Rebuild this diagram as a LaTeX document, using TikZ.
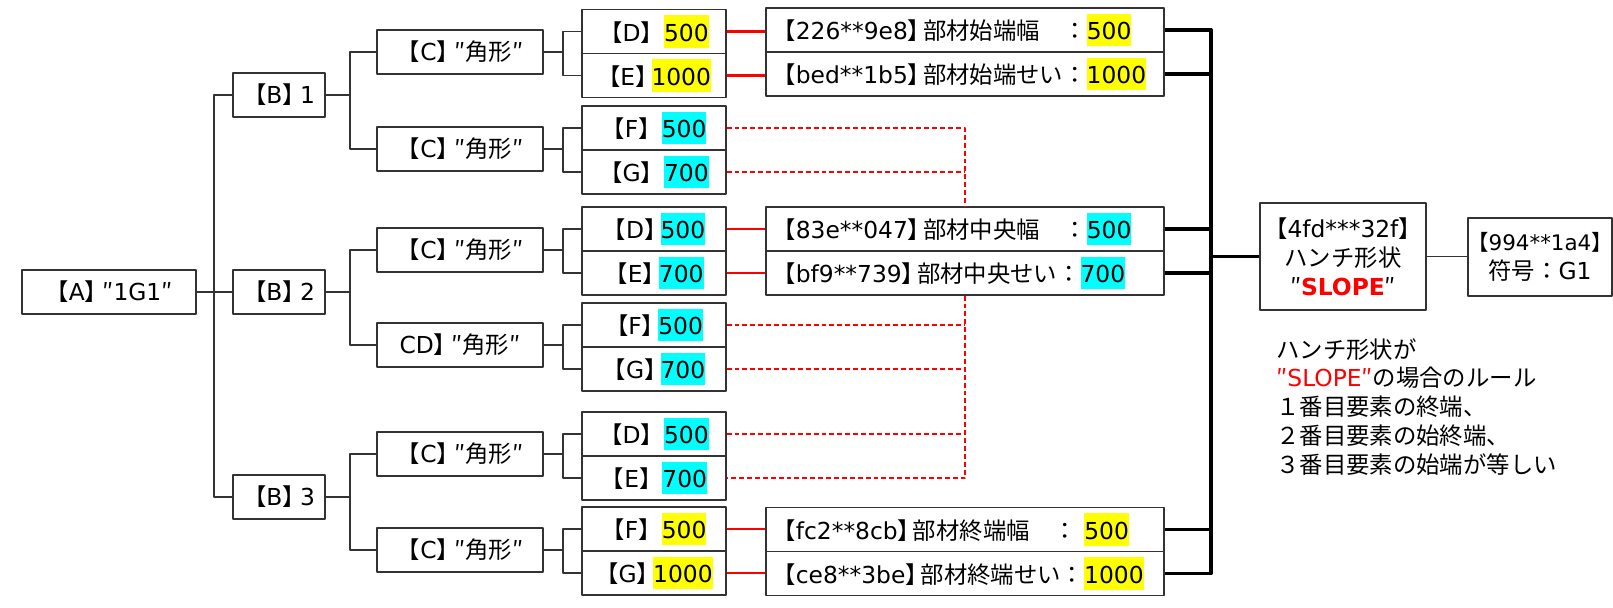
\documentclass[tikz,border=0pt]{standalone}
\usepackage{fontspec}
\usepackage{xcolor}
\setmainfont{DejaVu Sans}
\newfontfamily\jpfont{Noto Sans CJK JP}
\newcommand{\jpn}[1]{{\jpfont #1}}
\newcommand{\lbk}{\jpn{【}}
\newcommand{\rbk}[1][0.3em]{\jpn{】}\kern-#1}
\definecolor{hlyellow}{HTML}{FFFF00}
\definecolor{hlcyan}{HTML}{00FFFF}
\newcommand{\hlY}[1]{{\setlength{\fboxsep}{0pt}\colorbox{hlyellow}{\rule[-3.8pt]{0pt}{18.5pt}#1}}}
\newcommand{\hlC}[1]{{\setlength{\fboxsep}{0pt}\colorbox{hlcyan}{\rule[-3.8pt]{0pt}{18.5pt}#1}}}

\begin{document}
\begin{tikzpicture}[line join=round,font=\fontsize{13.3}{16.4}\selectfont,
  box/.style={draw=black!80,line width=0.75pt,fill=white,inner sep=0pt,minimum height=0.880cm},
  bnode/.style={box,minimum width=1.840cm},
  cnode/.style={box,minimum width=3.320cm},
  leaf/.style={box,minimum width=2.880cm},
  tgt/.style={box,text width=7.700cm,align=left,inner xsep=0.130cm,inner ysep=0pt},
  tree/.style={draw=black!80,line width=0.8pt},
  link/.style={draw=red,line width=1.5pt},
  dlink/.style={draw=red,line width=0.8pt,dash pattern=on 2.8pt off 1.7pt},
  bus/.style={draw=black,line width=1.9pt}]
  \useasboundingbox (0,0) rectangle (32.260,-12.140);
  % tree nodes
  \node[box,minimum width=3.480cm] (A) at (2.180,-5.840) {\lbk A\rbk[0.25em]\jpn{″}1G1\jpn{″}};
  \node[bnode] (B1) at (5.580,-1.900) {\lbk B\rbk[0.25em]1};
  \node[bnode] (B2) at (5.580,-5.840) {\lbk B\rbk[0.25em]2};
  \node[bnode] (B3) at (5.580,-9.940) {\lbk B\rbk[0.25em]3};
  \node[cnode] (C1) at (9.200,-1.040) {\lbk C\rbk[0.25em]\jpn{″角形″}};
  \node[cnode] (C2) at (9.200,-2.980) {\lbk C\rbk[0.25em]\jpn{″角形″}};
  \node[cnode] (C3) at (9.200,-5.000) {\lbk C\rbk[0.25em]\jpn{″角形″}};
  \node[cnode] (C4) at (9.200,-6.900) {CD\rbk[0.25em]\jpn{″角形″}};
  \node[cnode] (C5) at (9.200,-9.080) {\lbk C\rbk[0.25em]\jpn{″角形″}};
  \node[cnode] (C6) at (9.200,-11.000) {\lbk C\rbk[0.25em]\jpn{″角形″}};
  \node[leaf] (D1) at (13.080,-0.630) {\lbk D\rbk[0pt]\hlY{500}};
  \node[leaf] (E1) at (13.080,-1.510) {\lbk E\rbk\hlY{1000}};
  \node[leaf] (F1) at (13.080,-2.560) {\lbk F\rbk[0pt]\hlC{500}};
  \node[leaf] (G1) at (13.080,-3.440) {\lbk G\rbk[0pt]\hlC{700}};
  \node[leaf] (D2) at (13.080,-4.580) {\lbk D\rbk\hlC{500}};
  \node[leaf] (E2) at (13.080,-5.460) {\lbk E\rbk\hlC{700}};
  \node[leaf] (F2) at (13.080,-6.500) {\lbk F\rbk\hlC{500}};
  \node[leaf] (G2) at (13.080,-7.380) {\lbk G\rbk\hlC{700}};
  \node[leaf] (D3) at (13.080,-8.680) {\lbk D\rbk[0pt]\hlC{500}};
  \node[leaf] (E3) at (13.080,-9.560) {\lbk E\rbk[0pt]\hlC{700}};
  \node[leaf] (F3) at (13.080,-10.580) {\lbk F\rbk[0pt]\hlY{500}};
  \node[leaf] (G3) at (13.080,-11.460) {\lbk G\rbk\hlY{1000}};
  % member attribute boxes
  \node[tgt] (T1) at (19.300,-0.600) {\lbk 226**9e8\rbk[0.35em]\jpn{部材始端幅　：}\hlY{500}};
  \node[tgt] (T2) at (19.300,-1.480) {\lbk bed**1b5\rbk[0.35em]\jpn{部材始端せい：}\hlY{1000}};
  \node[tgt] (T3) at (19.300,-4.580) {\lbk 83e**047\rbk[0.35em]\jpn{部材中央幅　：}\hlC{500}};
  \node[tgt] (T4) at (19.300,-5.460) {\lbk bf9**739\rbk[0.35em]\jpn{部材中央せい：}\hlC{700}};
  \node[tgt] (T5) at (19.300,-10.590) {\lbk fc2**8cb\rbk[0.35em]\jpn{部材終端幅　：} \hlY{500}};
  \node[tgt] (T6) at (19.300,-11.470) {\lbk ce8**3be\rbk[0.35em]\jpn{部材終端せい：}\hlY{1000}};
  \node[box,minimum width=3.320cm,minimum height=2.140cm,align=center] (H) at (26.860,-5.130)
    {\lbk 4fd***32f\jpn{】}\\\jpn{ハンチ形状}\\\jpn{″}{\bfseries\color{red}SLOPE}\jpn{″}};
  \node[box,minimum width=2.880cm,minimum height=1.560cm,align=center] (G) at (30.800,-5.140)
    {{\fontsize{12.2}{16.4}\selectfont\kern-0.2em\lbk 994**1a4\jpn{】}\kern-0.2em}\\\jpn{符号：}G1};
  \node[anchor=north west,inner sep=0pt,align=left] (note) at (25.520,-6.760)
    {\jpn{ハンチ形状が}\\{\color{red}\jpn{″}SLOPE\jpn{″}}\jpn{の場合のルール}\\\jpn{１番目要素の終端、}\\\jpn{２番目要素の始終端、}\\\jpn{３番目要素の始端が等しい}};
  % tree connectors
  \coordinate (sA) at (4.280,-5.840);
  \draw[tree,line width=1.2pt] (A.east) -- (sA);
  \draw[tree] (B1.west) -| (sA) |- (B3.west);
  \draw[tree] (sA) -- (B2.west);
  \coordinate (sB1) at (7.000,-1.900);
  \coordinate (sB2) at (7.000,-5.840);
  \coordinate (sB3) at (7.000,-9.940);
  \draw[tree] (B1.east) -- (sB1);
  \draw[tree] (C1.west) -| (sB1) |- (C2.west);
  \draw[tree] (B2.east) -- (sB2);
  \draw[tree] (C3.west) -| (sB2) |- (C4.west);
  \draw[tree] (B3.east) -- (sB3);
  \draw[tree] (C5.west) -| (sB3) |- (C6.west);
  \coordinate (sC1) at (11.260,-1.040);
  \coordinate (sC2) at (11.260,-2.980);
  \coordinate (sC3) at (11.260,-5.000);
  \coordinate (sC4) at (11.260,-6.900);
  \coordinate (sC5) at (11.260,-9.080);
  \coordinate (sC6) at (11.260,-11.000);
  \draw[tree] (C1.east) -- (sC1);
  \draw[tree] (D1.west) -| (sC1) |- (E1.west);
  \draw[tree] (C2.east) -- (sC2);
  \draw[tree] (F1.west) -| (sC2) |- (G1.west);
  \draw[tree] (C3.east) -- (sC3);
  \draw[tree] (D2.west) -| (sC3) |- (E2.west);
  \draw[tree] (C4.east) -- (sC4);
  \draw[tree] (F2.west) -| (sC4) |- (G2.west);
  \draw[tree] (C5.east) -- (sC5);
  \draw[tree] (D3.west) -| (sC5) |- (E3.west);
  \draw[tree] (C6.east) -- (sC6);
  \draw[tree] (F3.west) -| (sC6) |- (G3.west);
  % value links
  \draw[link] (D1.east) -- (D1.east -| T1.west);
  \draw[link] (E1.east) -- (E1.east -| T2.west);
  \draw[link] (D2.east) -- (D2.east -| T3.west);
  \draw[link] (E2.east) -- (E2.east -| T4.west);
  \draw[link] (F3.east) -- (F3.east -| T5.west);
  \draw[link] (G3.east) -- (G3.east -| T6.west);
  \coordinate (dbus) at (19.300,0.000);
  \draw[dlink] (F1.east) -- (F1.east -| dbus) -- (T3.north -| dbus);
  \draw[dlink] (G1.east) -- (G1.east -| dbus);
  \draw[dlink] (F2.east) -- (F2.east -| dbus);
  \draw[dlink] (G2.east) -- (G2.east -| dbus);
  \draw[dlink] (D3.east) -- (D3.east -| dbus);
  \draw[dlink] (T4.south -| dbus) -- (E3.east -| dbus) -- (E3.east);
  % collecting bus
  \coordinate (rbus) at (24.220,0.000);
  \draw[bus] (T1.east) -- (T1.east -| rbus) -- (T6.east -| rbus) -- (T6.east);
  \draw[bus] (T2.east) -- (T2.east -| rbus);
  \draw[bus] (T3.east) -- (T3.east -| rbus);
  \draw[bus] (T4.east) -- (T4.east -| rbus);
  \draw[bus] (T5.east) -- (T5.east -| rbus);
  \draw[bus] (H.west -| rbus) -- (H.west);
  \draw[tree] (H.east) -- (H.east -| G.west);
\end{tikzpicture}
\end{document}
